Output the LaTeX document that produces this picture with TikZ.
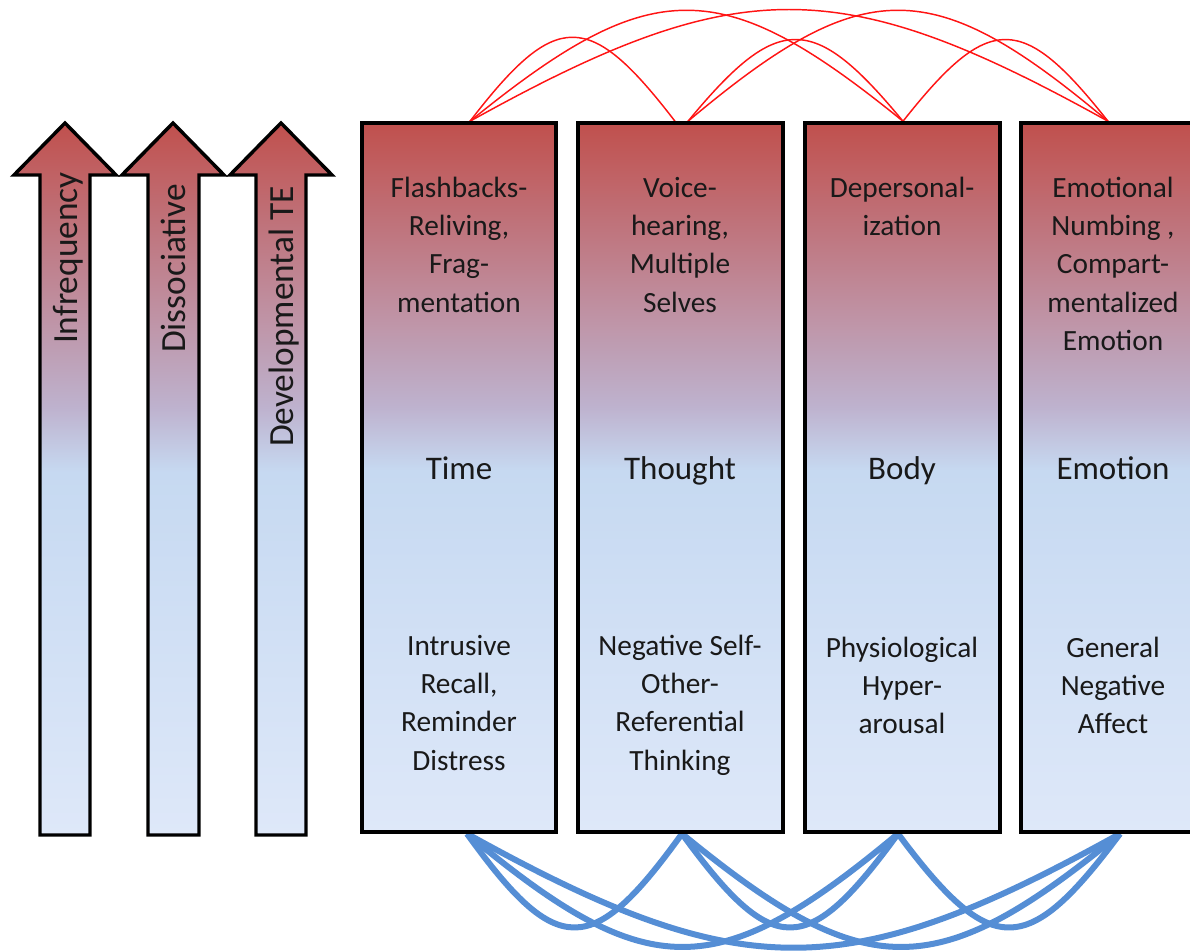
\documentclass[tikz,border=0pt]{standalone}
\usepackage{fontspec}
\setmainfont{Carlito}
\usetikzlibrary{calc,backgrounds}
\definecolor{rtop}{RGB}{192,80,77}
\definecolor{rlav}{RGB}{190,178,206}
\definecolor{bmid}{RGB}{198,217,241}
\definecolor{bbot}{RGB}{222,232,249}
\definecolor{arcblue}{RGB}{85,142,213}
\definecolor{arcred}{RGB}{255,20,20}
\pgfdeclareverticalshading{grad}{100bp}{color(0bp)=(bbot); color(25bp)=(bbot); color(50.5bp)=(bmid); color(55bp)=(rlav); color(75bp)=(rtop); color(100bp)=(rtop)}
\newcommand\myst{\rule{0pt}{16pt}}
\begin{document}
\begin{tikzpicture}[x=0.75pt,y=-0.75pt,
  box/.style={draw=black, line width=2.6pt, shade, shading=grad, minimum height=531.75pt, inner sep=0pt},
  upar/.style={draw=black, line width=2.6pt, shade, shading=grad, line join=miter},
  lbl/.style={font=\fontsize{22}{28.7}\selectfont, align=center, inner sep=0pt, text=black!90},
  midlbl/.style={font=\fontsize{24.75}{28.7}\selectfont, inner sep=0pt, text=black!90, anchor=base},
  arlbl/.style={font=\fontsize{26.5}{30}\selectfont, inner sep=0pt, text=black!90, rotate=90, anchor=base east},
  redarc/.style={draw=arcred, line width=1.1pt},
  bluearc/.style={draw=arcblue, line width=4.5pt},
]
\useasboundingbox (0,0) rectangle (1190,952);
\clip (0,0) rectangle (1190,952);

% up arrows
\path[upar] (40,835) -- (40,175) -- (14,175) -- (65,123) -- (116,175) -- (90,175) -- (90,835) -- cycle;
\path[upar] (148,835) -- (148,175) -- (122,175) -- (173,123) -- (224,175) -- (199,175) -- (199,835) -- cycle;
\path[upar] (256,835) -- (256,175) -- (230,175) -- (281,123) -- (332,175) -- (306,175) -- (306,835) -- cycle;
\node[arlbl] (a1) at (77,172) {Infrequency};
\node[arlbl] (a2) at (185,184) {Dissociative};
\node[arlbl] (a3) at (293,186) {Developmental TE};

% boxes
\node[box, minimum width=145.5pt] (b1) at (459,477.5) {};
\node[box, minimum width=153.75pt] (b2) at (680.5,477.5) {};
\node[box, minimum width=146.25pt] (b3) at (902.5,477.5) {};
\node[box, minimum width=138pt] (b4) at (1113,477.5) {};

% texts
\node[lbl, anchor=north] (t1) at (459,175.7) {\myst Flashbacks-\\Reliving,\\Frag-\\mentation};
\node[midlbl] (m1) at (459,479.3) {Time};
\node[lbl, anchor=north] (l1) at (459,633.7) {\myst Intrusive\\Recall,\\Reminder\\Distress};

\node[lbl, anchor=north] (t2) at (680,175.7) {\myst Voice-\\hearing,\\Multiple\\Selves};
\node[midlbl] (m2) at (680,479.3) {Thought};
\node[lbl, anchor=north] (l2) at (680,633.7) {\myst Negative Self-\\Other-\\Referential\\Thinking};

\node[lbl, anchor=north] (t3) at (902,175.7) {\myst Depersonal-\\ization};
\node[midlbl] (m3) at (902,479.3) {Body};
\node[lbl, anchor=north] (l3) at (902,635.7) {\myst Physiological\\Hyper-\\arousal};

\node[lbl, anchor=north] (t4) at (1113,175.7) {\myst Emotional\\Numbing ,\\Compart-\\mentalized\\Emotion};
\node[midlbl] (m4) at (1113,479.3) {Emotion};
\node[lbl, anchor=north] (l4) at (1113,635.7) {\myst General\\Negative\\Affect};

% connection points
\coordinate (r1) at ($(b1.north)+(11,0)$);
\coordinate (r2a) at ($(b2.north)+(-5.5,0)$);
\coordinate (r2b) at ($(b2.north)+(7.5,0)$);
\coordinate (r3) at ($(b3.north)+(0.5,0)$);
\coordinate (r4) at ($(b4.north)+(-5,0)$);
\coordinate (s1) at ($(b1.south)+(8,0)$);
\coordinate (s2) at ($(b2.south)+(1.5,0)$);
\coordinate (s3) at ($(b3.south)+(-4.5,0)$);
\coordinate (s4) at ($(b4.south)+(7,0)$);

\begin{scope}[on background layer]
\draw[redarc] (r1) .. controls +(86,-112) and +(-86,-112) .. (r2a);
\draw[redarc] (r1) .. controls +(182,-148) and +(-182,-148) .. (r3);
\draw[redarc] (r1) .. controls +(268,-149) and +(-268,-149) .. (r4);
\draw[redarc] (r2b) .. controls +(90,-109) and +(-90,-109) .. (r3);
\draw[redarc] (r2b) .. controls +(176,-148) and +(-176,-148) .. (r4);
\draw[redarc] (r3) .. controls +(86,-109) and +(-86,-109) .. (r4);

\draw[bluearc] (s1) .. controls +(90,125) and +(-90,125) .. (s2);
\draw[bluearc] (s1) .. controls +(181,151) and +(-181,151) .. (s3);
\draw[bluearc] (s1) .. controls +(274,152) and +(-274,152) .. (s4);
\draw[bluearc] (s2) .. controls +(91,125) and +(-91,125) .. (s3);
\draw[bluearc] (s2) .. controls +(184,151) and +(-184,151) .. (s4);
\draw[bluearc] (s3) .. controls +(93,125) and +(-93,125) .. (s4);
\end{scope}
\end{tikzpicture}
\end{document}
